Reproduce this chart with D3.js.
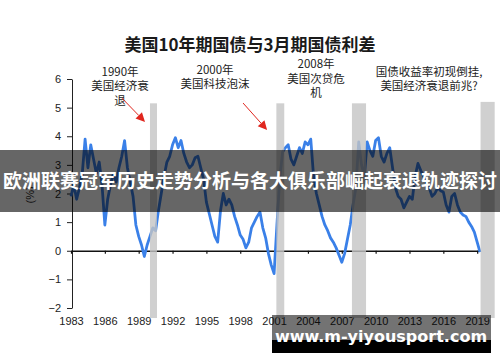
<!DOCTYPE html>
<html>
<head>
<meta charset="utf-8">
<script src="https://cdn.jsdelivr.net/npm/d3@7"></script>
<style>
  body { margin: 0; background: #fff; }
  svg { display: block; }
</style>
</head>
<body>
<script>
// spread chart: US 10y minus 3m treasury (quarterly readings)

var startYear = 1983;
// one value per quarter, from 1983.00 onward
var spread = [
  1.9, 2.3, 1.8, 2.2,      // 1983
  2.7, 3.9, 2.9, 3.7,      // 1984
  3.2, 2.7, 3.1, 2.3,      // 1985
  0.9, 1.8, 2.3, 2.7,      // 1986
  2.4, 2.9, 3.3, 3.85,     // 1987
  2.9, 2.4, 1.9, 0.9,      // 1988
  0.5, 0.2, -0.2, 0.2,     // 1989
  0.5, 0.8, 0.7, 1.4,      // 1990
  2.0, 2.6, 3.1, 3.3,      // 1991
  3.7, 3.95, 3.6, 3.85,    // 1992
  3.4, 3.1, 2.9, 3.0,      // 1993
  3.25, 3.3, 2.9, 2.5,     // 1994
  1.7, 1.3, 0.9, 0.5,      // 1995
  0.3, 1.4, 2.0, 1.6,      // 1996
  1.8, 1.6, 1.2, 0.9,      // 1997
  0.55, 0.4, 0.1, 0.3,     // 1998
  0.8, 1.0, 1.2, 1.35,     // 1999
  0.8, 0.45, -0.1, -0.5,   // 2000
  -0.8, 0.9, 2.5, 3.45,    // 2001
  3.6, 3.7, 3.2, 3.0,      // 2002
  3.3, 3.6, 3.4, 3.8,      // 2003
  3.7, 3.9, 2.6, 2.0,      // 2004
  1.6, 1.2, 0.9, 0.7,      // 2005
  0.45, 0.3, 0.1, -0.15,   // 2006
  -0.4, -0.1, 0.4, 0.9,    // 2007
  1.6, 2.2, 3.8, 3.0,      // 2008
  2.6, 3.8, 3.5, 3.3,      // 2009
  3.85, 3.95, 3.3, 3.1,    // 2010
  3.4, 3.6, 2.9, 2.2,      // 2011
  1.9, 1.8, 1.5, 1.7,      // 2012
  1.9, 1.8, 2.6, 3.05,     // 2013
  2.8, 2.6, 2.4, 2.2,      // 2014
  1.9, 2.0, 2.2, 2.1,      // 2015
  2.05, 1.6, 1.35, 1.9,    // 2016
  2.0, 1.6, 1.35, 1.25,    // 2017
  1.2, 1.0, 0.85, 0.65,    // 2018
  0.3, -0.05               // 2019
];

// recession shading (start / end in decimal years)
var recStart = [1990.0, 2001.2, 2007.9, 2019.3];
var recEnd = [1990.62, 2001.9, 2009.15, 2020.55];
var recTop = [5.15, 5.15, 5.15, 5.2];

var xTicks = [1983, 1986, 1989, 1992, 1995, 1998, 2001, 2004, 2007, 2010, 2013, 2016, 2019];
var yTicks = [-2, -1, 0, 1, 2, 3, 4, 5, 6];

var titleText = "美国10年期国债与3月期国债利差";
var bannerText = "欧洲联赛冠军历史走势分析与各大俱乐部崛起衰退轨迹探讨";
var siteText = "www.m-yiyousport.com";

// notes: centre year, value of first baseline, lines
var notes = [
  {year: 1987.35, value: 6.12, lines: ["1990年", "美国经济衰", "退"]},
  {year: 1995.77, value: 6.19, lines: ["2000年", "美国科技泡沫"]},
  {year: 2004.72, value: 6.38, lines: ["2008年", "美国次贷危", "机"]},
  {year: 2014.74, value: 6.12, lines: ["国债收益率初现倒挂,", "美国经济衰退前兆?"]}
];
var arrows = [
  {x1: 1987.52, y1: 5.33, x2: 1989.56, y2: 4.5},
  {x1: 1998.25, y1: 5.16, x2: 2000.38, y2: 4.22}
];

var width = 500, height = 362;
var cjk = "'Noto Sans CJK SC', sans-serif";
var latin = "'Liberation Sans', Arial, sans-serif";

var svg = d3.select("body").append("svg")
  .attr("width", width)
  .attr("height", height);

var x = d3.scaleLinear().domain([1983, 2019.25]).range([71, 480]);
var y = d3.scaleLinear().domain([-2, 6]).range([308, 79]);

// y axis
var yAxis = svg.append("g")
  .attr("transform", "translate(72,0)")
  .call(d3.axisLeft(y).tickValues(yTicks).tickSize(5).tickSizeOuter(0).tickPadding(6));
yAxis.selectAll("text").attr("font-family", latin).attr("font-size", 11).attr("fill", "#222");
yAxis.selectAll("line, path").attr("stroke", "#222");

// x axis line on zero
var xAxis = svg.append("g")
  .attr("transform", "translate(0," + y(0) + ")")
  .call(d3.axisBottom(x).tickValues(xTicks).tickSize(3).tickSizeOuter(0).tickFormat(""));
xAxis.selectAll("path").attr("stroke", "#111").attr("stroke-width", 1.6);
xAxis.selectAll("line").attr("stroke", "#111").attr("stroke-width", 1.2);

// x labels at the bottom
var xLab = svg.append("g")
  .attr("transform", "translate(0,317)")
  .call(d3.axisBottom(x).tickValues(xTicks).tickSize(0).tickPadding(0).tickFormat(d3.format("d")));
xLab.select(".domain").remove();
xLab.selectAll("text").attr("font-family", latin).attr("font-size", 11).attr("fill", "#222");

// y unit
svg.append("text")
  .attr("transform", "translate(34," + y(1.95) + ") rotate(-90)")
  .attr("text-anchor", "middle")
  .attr("font-family", latin)
  .attr("font-size", 11)
  .attr("fill", "#222")
  .text("(%)");

// spread line
var line = d3.line()
  .x(function(d, i){ return x(startYear + i / 4); })
  .y(function(d){ return y(d); });

svg.append("path")
  .datum(spread)
  .attr("d", line)
  .attr("fill", "none")
  .attr("stroke", "#3a80e8")
  .attr("stroke-width", 2.8)
  .attr("stroke-linejoin", "round");

// recession bars over the line
svg.selectAll(".rec")
  .data(recStart)
  .enter()
  .append("rect")
  .attr("class", "rec")
  .attr("x", function(d){ return x(d); })
  .attr("width", function(d, i){ return x(recEnd[i]) - x(d); })
  .attr("y", function(d, i){ return y(recTop[i]); })
  .attr("height", function(d, i){ return y(-2.35) - y(recTop[i]); })
  .attr("fill", "#c4c4c4")
  .attr("opacity", 0.8);

// notes
notes.forEach(function(n){
  n.lines.forEach(function(t, k){
    svg.append("text")
      .attr("x", x(n.year))
      .attr("y", y(n.value) + k * 14.5)
      .attr("text-anchor", "middle")
      .attr("font-family", cjk)
      .attr("font-size", 11.5)
      .attr("fill", "#222")
      .text(t);
  });
});

// red arrows
arrows.forEach(function(a){
  var ax1 = x(a.x1), ay1 = y(a.y1), ax2 = x(a.x2), ay2 = y(a.y2);
  var ang = Math.atan2(ay2 - ay1, ax2 - ax1);
  var len = 9, half = 4.5;
  var bx = ax2 - len * Math.cos(ang), by = ay2 - len * Math.sin(ang);
  svg.append("line")
    .attr("x1", ax1).attr("y1", ay1)
    .attr("x2", bx).attr("y2", by)
    .attr("stroke", "#e0261e")
    .attr("stroke-width", 1);
  var pts = [
    [ax2, ay2],
    [bx + half * Math.sin(ang), by - half * Math.cos(ang)],
    [bx - half * Math.sin(ang), by + half * Math.cos(ang)]
  ];
  svg.append("polygon")
    .attr("points", pts.map(function(p){ return p.join(","); }).join(" "))
    .attr("fill", "#e0261e");
});

// title
svg.append("text")
  .attr("x", 250)
  .attr("y", 51)
  .attr("text-anchor", "middle")
  .attr("font-family", cjk)
  .attr("font-weight", "bold")
  .attr("font-size", 17)
  .attr("fill", "#1a1a1a")
  .text(titleText);

// banner across the middle
svg.append("rect")
  .attr("x", 0).attr("y", 150)
  .attr("width", width).attr("height", 62)
  .attr("fill", "#000")
  .attr("opacity", 0.6);
svg.append("text")
  .attr("x", 250)
  .attr("y", 188)
  .attr("text-anchor", "middle")
  .attr("font-family", cjk)
  .attr("font-weight", "bold")
  .attr("font-size", 19)
  .attr("fill", "#fff")
  .text(bannerText);

// site mark, bottom right
svg.append("rect")
  .attr("x", 272).attr("y", 315)
  .attr("width", 219).attr("height", 25)
  .attr("fill", "#000")
  .attr("opacity", 0.55);
svg.append("rect")
  .attr("x", 272).attr("y", 340)
  .attr("width", 219).attr("height", 13)
  .attr("fill", "#000");
svg.append("text")
  .attr("x", 381)
  .attr("y", 342)
  .attr("text-anchor", "middle")
  .attr("font-family", "'DejaVu Sans', sans-serif")
  .attr("font-weight", "bold")
  .attr("font-size", 16)
  .attr("fill", "#fff")
  .text(siteText);
</script>
</body>
</html>
